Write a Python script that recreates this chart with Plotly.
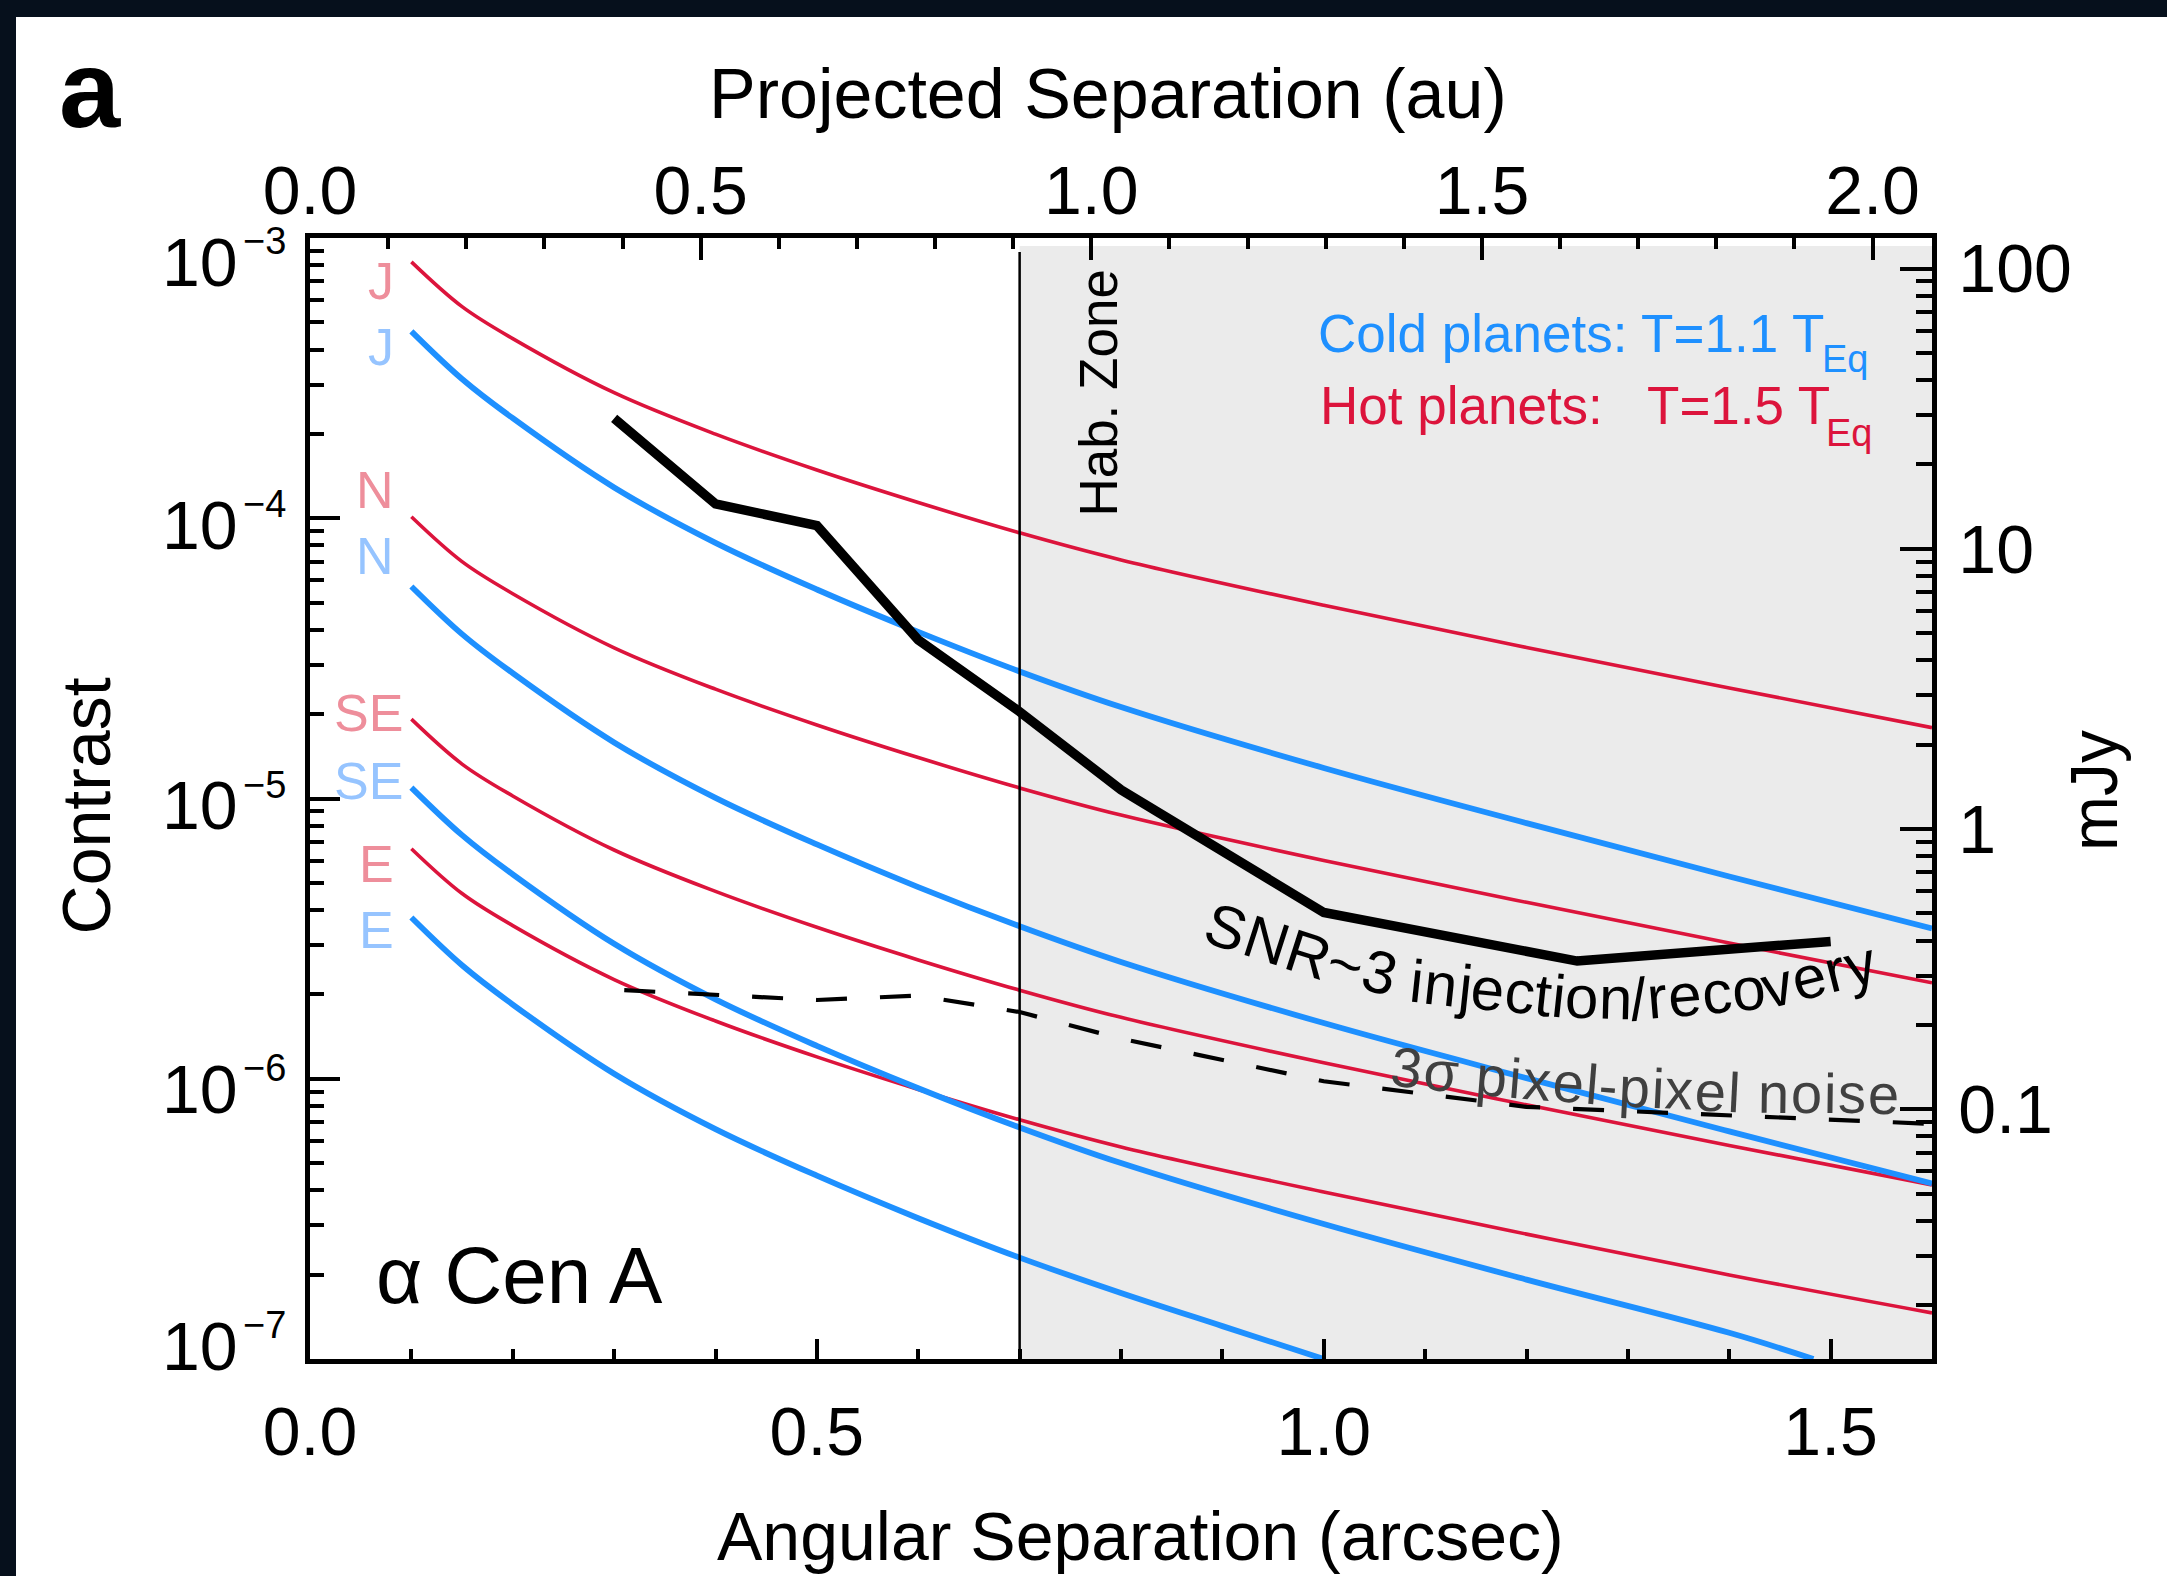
import math
import plotly.graph_objects as go

# ---------------- data ----------------
sep_arcsec = [0.10, 0.15, 0.20, 0.30, 0.40, 0.50, 0.60, 0.70, 0.80, 1.00, 1.20, 1.40, 1.60]

# Hot planets (T = 1.5 T_Eq)
hot_J = [8.22e-4, 5.69e-4, 4.375e-4, 2.805e-4, 1.995e-4, 1.486e-4, 1.138e-4, 8.87e-5, 7.10e-5, 4.89e-5, 3.46e-5, 2.48e-5, 1.79e-5]
hot_N = [1.012e-4, 7.00e-5, 5.38e-5, 3.45e-5, 2.455e-5, 1.83e-5, 1.40e-5, 1.091e-5, 8.73e-6, 6.01e-6, 4.26e-6, 3.05e-6, 2.20e-6]
hot_SE = [1.919e-5, 1.327e-5, 1.021e-5, 6.55e-6, 4.66e-6, 3.47e-6, 2.655e-6, 2.07e-6, 1.656e-6, 1.14e-6, 8.07e-7, 5.78e-7, 4.18e-7]
hot_E = [6.62e-6, 4.58e-6, 3.52e-6, 2.26e-6, 1.607e-6, 1.197e-6, 9.16e-7, 7.14e-7, 5.71e-7, 3.94e-7, 2.79e-7, 1.995e-7, 1.46e-7]

# Cold planets (T = 1.1 T_Eq)
cold_J = [4.645e-4, 3.14e-4, 2.275e-4, 1.288e-4, 8.17e-5, 5.57e-5, 3.93e-5, 2.84e-5, 2.12e-5, 1.285e-5, 8.17e-6, 5.27e-6, 3.44e-6]
cold_N = [5.71e-5, 3.86e-5, 2.80e-5, 1.585e-5, 1.005e-5, 6.855e-6, 4.83e-6, 3.50e-6, 2.61e-6, 1.58e-6, 1.005e-6, 6.49e-7, 4.23e-7]
sep_cold_SE = [0.10, 0.15, 0.20, 0.30, 0.40, 0.50, 0.60, 0.70, 0.80, 1.00, 1.20, 1.40, 1.483]
cold_SE = [1.094e-5, 7.40e-6, 5.36e-6, 3.03e-6, 1.92e-6, 1.31e-6, 9.25e-7, 6.70e-7, 5.00e-7, 3.03e-7, 1.92e-7, 1.24e-7, 1.0e-7]
sep_cold_E = [0.10, 0.15, 0.20, 0.30, 0.40, 0.50, 0.60, 0.70, 0.80, 0.90, 1.00]
cold_E = [3.76e-6, 2.54e-6, 1.84e-6, 1.042e-6, 6.61e-7, 4.51e-7, 3.18e-7, 2.30e-7, 1.72e-7, 1.31e-7, 1.0e-7]

# SNR~3 injection/recovery limit
snr_sep = [0.30, 0.40, 0.50, 0.60, 0.70, 0.80, 1.00, 1.25, 1.50]
snr_contrast = [2.27e-4, 1.125e-4, 9.42e-5, 3.68e-5, 2.04e-5, 1.074e-5, 3.92e-6, 2.63e-6, 3.09e-6]

# 3 sigma pixel-pixel noise
noise_sep = [0.31, 0.40, 0.50, 0.60, 0.70, 0.80, 1.00, 1.20, 1.40, 1.60]
noise_contrast = [2.07e-6, 1.99e-6, 1.91e-6, 1.98e-6, 1.73e-6, 1.39e-6, 9.8e-7, 7.94e-7, 7.41e-7, 6.9e-7]

hab_zone_start = 0.70
x_range = [0.0, 1.6]
y_range_log = [-7, -3]
au_per_arcsec = 1.2975
mjy_per_contrast = 1.285e5

bottom_ticks = [0.0, 0.5, 1.0, 1.5]
bottom_ticktext = ["0.0", "0.5", "1.0", "1.5"]
top_ticks = [0.0, 0.5, 1.0, 1.5, 2.0]
top_ticktext = ["0.0", "0.5", "1.0", "1.5", "2.0"]
left_ticks = [1e-7, 1e-6, 1e-5, 1e-4, 1e-3]
left_exponents = ["−7", "−6", "−5", "−4", "−3"]
right_ticks = [0.1, 1, 10, 100]
right_ticktext = ["0.1", "1", "10", "100"]

# ---------------- style ----------------
RED = "#DC143C"
BLUE = "#1E90FF"
PINK = "#EE8E9B"
LBLUE = "#96C4FF"
FONT = "Liberation Sans, Arial, Helvetica, sans-serif"

W, H = 2167, 1576
L0, R0, T0, B0 = 310, 1932, 238, 1359


def px(xp):
    return (xp - L0) / (R0 - L0)


def py(yp):
    return (B0 - yp) / (B0 - T0)


fig = go.Figure()

for yv in [hot_J, hot_N, hot_SE, hot_E]:
    fig.add_trace(go.Scatter(x=sep_arcsec, y=yv, mode="lines",
                             line=dict(color=RED, width=3.6, shape="spline", smoothing=1.0),
                             showlegend=False, hoverinfo="skip"))
for xv, yv in [(sep_arcsec, cold_J), (sep_arcsec, cold_N), (sep_cold_SE, cold_SE), (sep_cold_E, cold_E)]:
    fig.add_trace(go.Scatter(x=xv, y=yv, mode="lines",
                             line=dict(color=BLUE, width=5.8, shape="spline", smoothing=1.0),
                             showlegend=False, hoverinfo="skip"))

fig.add_trace(go.Scatter(x=noise_sep, y=noise_contrast, mode="lines",
                         line=dict(color="black", width=4.2, dash="31px,33px"),
                         showlegend=False, hoverinfo="skip"))
fig.add_trace(go.Scatter(x=snr_sep, y=snr_contrast, mode="lines",
                         line=dict(color="black", width=9.5),
                         showlegend=False, hoverinfo="skip"))
# secondary axes (projected separation / mJy)
fig.add_trace(go.Scatter(x=[v * au_per_arcsec for v in snr_sep],
                         y=[v * mjy_per_contrast for v in snr_contrast],
                         xaxis="x2", yaxis="y2", mode="lines",
                         line=dict(color="rgba(0,0,0,0)", width=0),
                         showlegend=False, hoverinfo="skip"))

# shapes: habitable zone shading and border
fig.add_shape(type="rect", xref="x", yref="paper", x0=hab_zone_start, x1=x_range[1],
              y0=0, y1=1 - 8 / 1121, fillcolor="#EBEBEB", line=dict(width=0), layer="below")
fig.add_shape(type="line", xref="x", yref="paper", x0=hab_zone_start, x1=hab_zone_start,
              y0=0, y1=1 - 14 / 1121, line=dict(color="black", width=2.5), layer="above")
# dark frame strip of the original photo
fig.add_shape(type="rect", xref="paper", yref="paper", x0=px(-5), x1=px(W + 5),
              y0=py(17), y1=py(-5), fillcolor="#06101C", line=dict(width=0), layer="above")
fig.add_shape(type="rect", xref="paper", yref="paper", x0=px(-5), x1=px(16),
              y0=py(H + 5), y1=py(-5), fillcolor="#06101C", line=dict(width=0), layer="above")

ann = []


def text_at(x, y, text, size, color="black", angle=0, xanchor="center", yanchor="middle", bold=False):
    ann.append(dict(x=x, y=y, xref="paper", yref="paper", text=text, showarrow=False,
                    textangle=angle, xanchor=xanchor, yanchor=yanchor,
                    font=dict(size=size, color=color, family=FONT,
                              weight="bold" if bold else "normal")))


# left (contrast) tick labels: "10" with a raised exponent, nudged like the original
label_nudge = [-13, 10, 7, 7, 24]
for tv, ex, nd in zip(left_ticks, left_exponents, label_nudge):
    yt = B0 - (math.log10(tv) - y_range_log[0]) / (y_range_log[1] - y_range_log[0]) * (B0 - T0)
    yc = yt + nd
    text_at(px(240), py(yc), "10", 68, xanchor="right")
    text_at(px(241), py(yc - 21), ex, 38, xanchor="left")

# titles
text_at(px(90), py(127 - 0.347 * 110), "a", 110, bold=True)
text_at(px(1108), py(118 - 0.347 * 70), "Projected Separation (au)", 70)
text_at(px(1140), py(1560 - 0.347 * 68), "Angular Separation (arcsec)", 68)
text_at(px(110 - 0.347 * 68), py(806), "Contrast", 68, angle=-90)
text_at(px(2117 - 0.347 * 66), py(791), "mJy", 66, angle=-90)

# curve labels
labels = [("J", 298.7, PINK, 396), ("J", 364.8, LBLUE, 396), ("N", 507.6, PINK, 396),
          ("N", 573.7, LBLUE, 396), ("SE", 730.9, PINK, 405), ("SE", 799.0, LBLUE, 405),
          ("E", 882.2, PINK, 396), ("E", 948.5, LBLUE, 396)]
for t, base, col, xr in labels:
    text_at(px(xr), py(base - 0.347 * 52), t, 52, color=col, xanchor="right")

# legend text
text_at(px(1571), py(351.6 - 0.347 * 53), "Cold planets: T=1.1 T", 53, color=BLUE)
text_at(px(1820), py(372 - 0.347 * 38), "Eq", 38, color=BLUE, xanchor="left")
text_at(px(1575), py(423.7 - 0.347 * 53), "Hot planets:\u00a0\u00a0\u00a0T=1.5 T", 53, color=RED)
text_at(px(1824), py(446 - 0.347 * 38), "Eq", 38, color=RED, xanchor="left")

# Hab. Zone and alpha Cen A
text_at(px(1116 - 0.347 * 53), py(393), "Hab. Zone", 53, angle=-90)
text_at(px(519), py(1303.4 - 0.347 * 80), "α Cen A", 80)

# text along curved baselines
CW = {'S': .667, 'N': .722, 'R': .722, '~': .584, '3': .556, ' ': .278, 'i': .222, 'n': .556,
      'j': .222, 'e': .556, 'c': .5, 't': .278, 'o': .556, '/': .278, 'r': .333, 'v': .5,
      'y': .5, 'σ': .6, 'p': .556, 'x': .5, 'l': .222, '-': .333, 's': .5}


def along(text, pts, f, color):
    segs = []
    for (x1, y1), (x2, y2) in zip(pts[:-1], pts[1:]):
        segs.append((x1, y1, x2, y2, math.hypot(x2 - x1, y2 - y1)))
    arc = sum(s[4] for s in segs)
    total = sum(CW[c] for c in text) * f
    k = arc / total
    cum = 0.0
    for c in text:
        w = CW[c] * f
        if c != ' ':
            s = (cum + w / 2) * k
            for i, (x1, y1, x2, y2, ln) in enumerate(segs):
                if s <= ln or i == len(segs) - 1:
                    t = min(s / ln, 1.0)
                    bx, by = x1 + t * (x2 - x1), y1 + t * (y2 - y1)
                    a = math.atan2(y2 - y1, x2 - x1)
                    break
                s -= ln
            cx = bx + math.sin(a) * 0.347 * f
            cy = by - math.cos(a) * 0.347 * f
            text_at(px(cx), py(cy), c, f, color=color, angle=math.degrees(a))
        cum += w


along("SNR~3 injection/recovery",
      [(1200, 941), (1312, 977), (1411, 1002), (1561, 1018), (1638, 1020), (1768, 1009), (1880, 981)],
      60, "black")
along("3σ pixel-pixel noise",
      [(1388, 1085), (1480, 1095), (1617, 1106), (1737, 1112), (1900, 1114)],
      56, "#404040")

tick_common = dict(ticks="inside", tickcolor="black", tickwidth=3.5, showline=True,
                   linecolor="black", linewidth=4.5, showgrid=False, zeroline=False,
                   tickfont=dict(size=68, family=FONT, color="black"))

fig.update_layout(
    width=W, height=H,
    margin=dict(l=L0, r=W - R0, t=T0, b=H - B0),
    paper_bgcolor="white", plot_bgcolor="white",
    font=dict(family=FONT, color="black"),
    showlegend=False,
    annotations=ann,
    xaxis=dict(range=x_range, tickmode="array", tickvals=bottom_ticks, ticktext=bottom_ticktext,
               ticklen=20, ticklabelstandoff=10,
               minor=dict(ticks="inside", ticklen=10, tickwidth=3.5, tickcolor="black",
                          tick0=0, dtick=0.1, showgrid=False),
               **tick_common),
    xaxis2=dict(range=[x_range[0] * au_per_arcsec, x_range[1] * au_per_arcsec], overlaying="x",
                side="top", anchor="y", tickmode="array", tickvals=top_ticks, ticktext=top_ticktext,
                ticklen=22, ticklabelstandoff=-8,
                minor=dict(ticks="inside", ticklen=11, tickwidth=3.5, tickcolor="black",
                           tick0=0, dtick=0.1, showgrid=False),
                **tick_common),
    yaxis=dict(type="log", range=y_range_log, tickmode="array", tickvals=left_ticks,
               showticklabels=False, ticklen=30,
               minor=dict(ticks="inside", ticklen=14, tickwidth=3.5, tickcolor="black",
                          dtick="D1", showgrid=False),
               **tick_common),
    yaxis2=dict(type="log", overlaying="y", side="right", anchor="x",
                range=[y_range_log[0] + math.log10(mjy_per_contrast),
                       y_range_log[1] + math.log10(mjy_per_contrast)],
                tickmode="array", tickvals=right_ticks, ticktext=right_ticktext,
                ticklen=32, ticklabelstandoff=8,
                minor=dict(ticks="inside", ticklen=16, tickwidth=3.5, tickcolor="black",
                           dtick="D1", showgrid=False),
                **tick_common),
)

fig.write_html("out.html")
